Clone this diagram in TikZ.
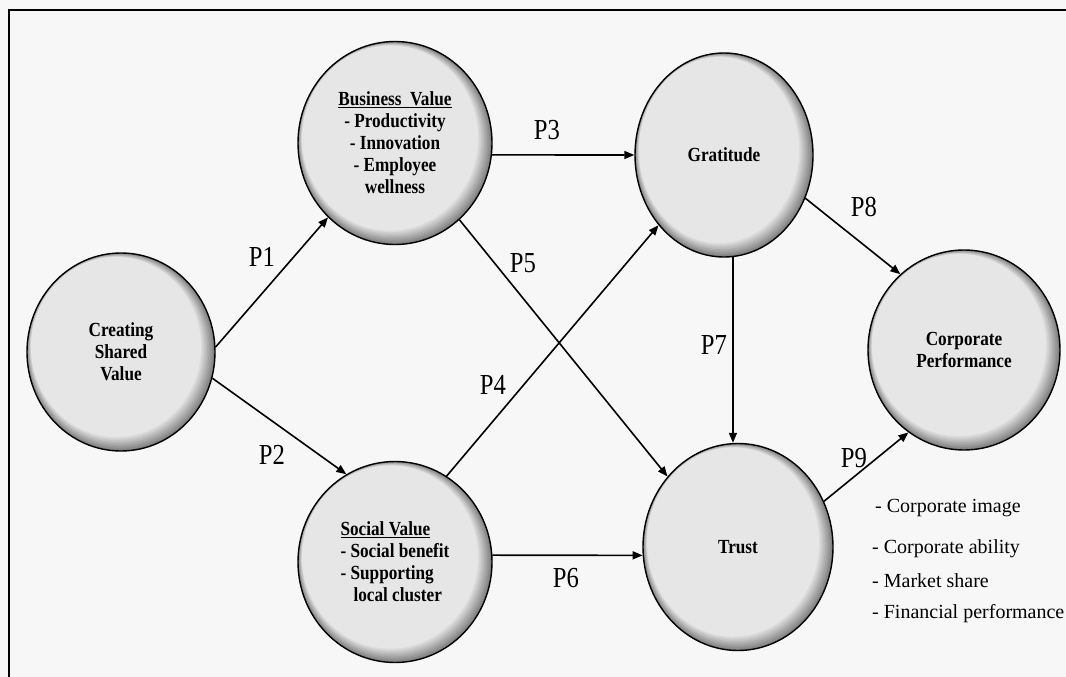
\documentclass[tikz,border=0pt]{standalone}
\usepackage{fontspec}
\setmainfont{Liberation Serif}
\newfontfamily\nodefont[FakeStretch=0.86]{Liberation Serif}
\newfontfamily\pfont[FakeStretch=0.85]{Liberation Serif}
\usetikzlibrary{shapes.geometric,arrows.meta}

\definecolor{ballface}{HTML}{E6E6E6}
\definecolor{ballrim}{HTML}{808080}

\begin{document}
\begin{tikzpicture}[x=1pt,y=-1pt,
  ball/.style 2 args={ellipse,draw=black,line width=1.4pt,fill=ballrim,inner sep=0pt,align=center,
    minimum width=#1,minimum height=#2,
    font=\nodefont\bfseries\fontsize{20}{22}\selectfont,
    path picture={\foreach \i in {1,...,9}{
      \pgfmathsetmacro\mix{100*\i/9}
      \fill[ballface!\mix!ballrim] ([shift={({-0.55pt*\i},{0.55pt*\i})}]path picture bounding box.center)
        ellipse [x radius={#1/2-1pt*\i}, y radius={#2/2-1pt*\i}];}}},
  arr/.style={-{Triangle[length=10pt,width=8pt]},line width=1.6pt},
  plab/.style={font=\pfont\fontsize{29}{30}\selectfont},
  kpi/.style={anchor=base west,inner sep=0pt,font=\fontsize{20}{22}\selectfont}]

% frame
\fill[white!97!black] (0,0) rectangle (1066,677);
\useasboundingbox (0,0) rectangle (1066,677);
\draw[line width=2.5pt] (9,677) -- (9,10) -- (1066,10);

% constructs
\node[ball={188pt}{198pt}] (CSV) at (121,352) {Creating\\Shared\\Value};
\node[ball={194pt}{203pt}] (BV) at (395,143) {\underline{Business\ \ Value}\\- Productivity\\- Innovation\\- Employee\\wellness};
\node[ball={194pt}{201pt},align=left] (SV) at (395,562) {\underline{Social Value}\\- Social benefit\\- Supporting\\\hspace*{13pt}local cluster};
\node[ball={178pt}{204pt}] (G) at (724,155) {Gratitude};
\node[ball={190pt}{207pt}] (T) at (738,547) {Trust};
\node[ball={192pt}{200pt}] (CP) at (964,350) {Corporate\\Performance};

% paths
\draw[arr] (CSV.3) -- (BV.228);
\draw[arr] (CSV.-16) -- (SV.119);
\draw[arr] (BV.-7) -- (G.west);
\draw[arr] (SV.59) -- (G.227);
\draw[arr] (BV.-50) -- (T.135);
\draw[arr] (SV.4) -- (T.185);
\draw[arr] (G.-85) -- (G.-85 |- T.north);
\draw[arr] (G.-28) -- (CP.130);
\draw[arr] (T.28) -- (CP.236);

% labels
\node[plab] (p1) at (262,257) {P1};
\node[plab] (p2) at (272,455) {P2};
\node[plab] (p3) at (547,130) {P3};
\node[plab] (p4) at (493,385) {P4};
\node[plab] (p5) at (523,263) {P5};
\node[plab] (p6) at (566,578) {P6};
\node[plab] (p7) at (714,345) {P7};
\node[plab] (p8) at (864,207) {P8};
\node[plab] (p9) at (854,458) {P9};

% indicators
\node[kpi] (k1) at (875,512) {- Corporate image};
\node[kpi] (k2) at (872,553) {- Corporate ability};
\node[kpi] (k3) at (872,587) {- Market share};
\node[kpi] (k4) at (872,618) {- Financial performance};
\end{tikzpicture}
\end{document}
